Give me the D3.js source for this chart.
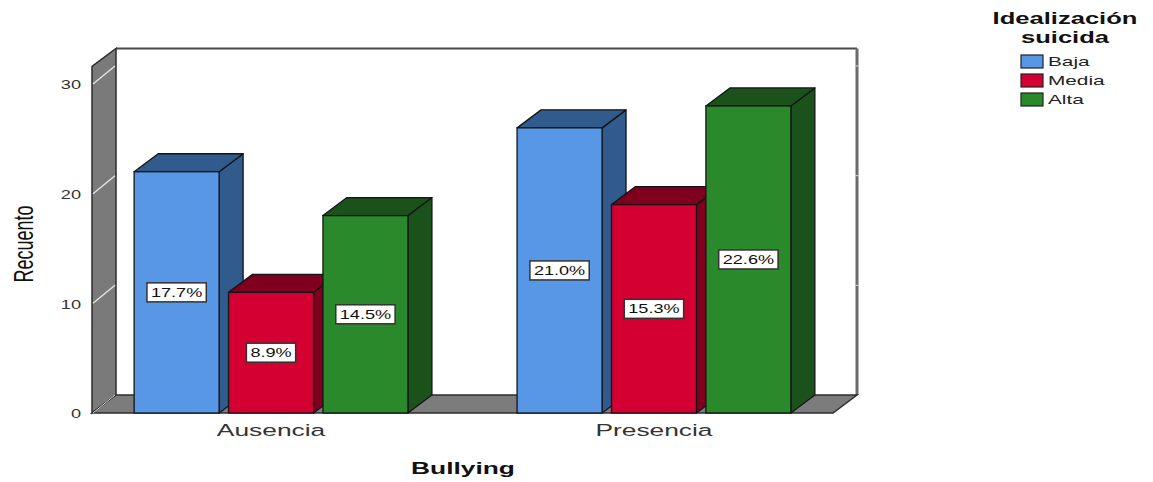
<!DOCTYPE html>
<html>
<head>
<meta charset="utf-8">
<script src="https://cdn.jsdelivr.net/npm/d3@7"></script>
<style>
  html, body { margin: 0; padding: 0; background: #fff; }
  svg { display: block; font-family: "Liberation Sans", Arial, sans-serif; }
</style>
</head>
<body>
<svg id="chart" width="1153" height="482"></svg>
<script>
// ---- data ----
const categories = ["Ausencia", "Presencia"];
const series = ["Baja", "Media", "Alta"];
const countsBaja  = [22, 26];
const countsMedia = [11, 19];
const countsAlta  = [18, 28];
const pctBaja  = ["17.7%", "21.0%"];
const pctMedia = ["8.9%", "15.3%"];
const pctAlta  = ["14.5%", "22.6%"];
const yTicks = [0, 10, 20, 30];
const yTop = 31.6;
const xTitle = "Bullying";
const yTitle = "Recuento";
const legendTitle = ["Idealización", "suicida"];

const seriesCounts = [countsBaja, countsMedia, countsAlta];
const seriesPct = [pctBaja, pctMedia, pctAlta];
const rows = [];
categories.forEach((c, i) => series.forEach((s, j) => rows.push({cat: c, ser: s, v: seriesCounts[j][i], p: seriesPct[j][i]})));

// ---- styles ----
const frontCol = {Baja: "#5797E6", Media: "#D40032", Alta: "#2A892B"};
const sideCol  = {Baja: "#315B8C", Media: "#7E001E", Alta: "#1B511B"};
const K = 1.55; // horizontal text stretch
const DX = 24, DY = -18;

const svg = d3.select("#chart");
const x0 = d3.scaleBand().domain(categories).range([92, 833]).paddingInner(0.285).paddingOuter(0.11);
const x1 = d3.scaleBand().domain(series).range([0, x0.bandwidth()]).paddingInner(0.1).paddingOuter(0);
const y = d3.scaleLinear().domain([0, 30]).range([413, 84]);

const fx0 = x0.range()[0], fx1 = x0.range()[1];
const yT = y(yTop), y0 = y(0);
const poly = pts => pts.map(p => p.join(",")).join(" ");

// back wall
svg.append("rect").attr("x", fx0 + DX).attr("y", yT + DY).attr("width", fx1 - fx0).attr("height", y0 - yT)
  .attr("fill", "#fff");
svg.append("line").attr("x1", fx0 + DX).attr("x2", fx1 + DX).attr("y1", yT + DY).attr("y2", yT + DY)
  .attr("stroke", "#4a4a4a").attr("stroke-width", 2);
svg.append("line").attr("x1", fx1 + DX).attr("x2", fx1 + DX).attr("y1", yT + DY).attr("y2", y0 + DY)
  .attr("stroke", "#6b6b6b").attr("stroke-width", 3);
// small marks on right wall at ticks
svg.selectAll(".rtick").data(yTicks.slice(1)).join("line")
  .attr("x1", fx1 + DX - 1.5).attr("x2", fx1 + DX + 1.5)
  .attr("y1", d => y(d) + DY).attr("y2", d => y(d) + DY)
  .attr("stroke", "#ddd").attr("stroke-width", 1);

// left wall
svg.append("polygon")
  .attr("points", poly([[fx0, yT], [fx0 + DX, yT + DY], [fx0 + DX, y0 + DY], [fx0, y0]]))
  .attr("fill", "#7a7a7a").attr("stroke", "#2e2e2e").attr("stroke-width", 1.5);
svg.selectAll(".grid").data(yTicks.slice(1)).join("line")
  .attr("x1", fx0 + 1).attr("x2", fx0 + DX - 1)
  .attr("y1", d => y(d)).attr("y2", d => y(d) + DY)
  .attr("stroke", "#e8e8e8").attr("stroke-width", 1.3);

// floor
svg.append("polygon")
  .attr("points", poly([[fx0, y0], [fx1, y0], [fx1 + DX, y0 + DY], [fx0 + DX, y0 + DY]]))
  .attr("fill", "#7c7c7c").attr("stroke", "#2e2e2e").attr("stroke-width", 1.5);
svg.append("line").attr("x1", fx0 + 1).attr("x2", fx0 + DX - 1).attr("y1", y0).attr("y2", y0 + DY)
  .attr("stroke", "#d0d0d0").attr("stroke-width", 1);

// bars
const bars = svg.append("g");
rows.forEach(d => {
  const xl = x0(d.cat) + x1(d.ser), xr = xl + x1.bandwidth();
  const yt = y(d.v);
  const g = bars.append("g");
  g.append("polygon").attr("points", poly([[xr, yt], [xr + DX, yt + DY], [xr + DX, y0 + DY], [xr, y0]]))
    .attr("fill", sideCol[d.ser]).attr("stroke", "#151515").attr("stroke-width", 1.3).attr("stroke-linejoin", "round");
  g.append("polygon").attr("points", poly([[xl, yt], [xl + DX, yt + DY], [xr + DX, yt + DY], [xr, yt]]))
    .attr("fill", sideCol[d.ser]).attr("stroke", "#151515").attr("stroke-width", 1.3).attr("stroke-linejoin", "round");
  g.append("rect").attr("x", xl).attr("y", yt).attr("width", xr - xl).attr("height", y0 - yt)
    .attr("fill", frontCol[d.ser]).attr("stroke", "#151515").attr("stroke-width", 1.3);
  // label
  const cx = (xl + xr) / 2, cy = (yt + y0) / 2;
  const lg = g.append("g").attr("transform", `translate(${cx},${cy})`);
  const t = lg.append("text").attr("text-anchor", "middle").attr("dy", "0.36em")
    .attr("font-size", 12.5).attr("fill", "#111").attr("transform", `scale(${K - 0.1},1)`).text(d.p);
  const w = t.node().getComputedTextLength() * (K - 0.1);
  lg.insert("rect", "text").attr("x", -w / 2 - 4).attr("y", -9.5).attr("width", w + 8).attr("height", 19)
    .attr("fill", "#fff").attr("stroke", "#333").attr("stroke-width", 1.5);
});

// y axis labels
const yAxis = svg.append("g").attr("transform", `translate(81,0)`)
  .call(d3.axisLeft(y).tickValues(yTicks).tickSize(0).tickPadding(0).tickFormat(d3.format("d")));
yAxis.select(".domain").remove();
yAxis.selectAll("text").attr("x", 0).attr("dy", "0.36em").attr("font-size", 13)
  .attr("font-family", "Liberation Sans, Arial, sans-serif").attr("fill", "#333")
  .attr("transform", `scale(${K - 0.15},1)`);

// x axis labels
const xAxis = svg.append("g").attr("transform", `translate(0,${y0})`)
  .call(d3.axisBottom(x0).tickSize(0).tickPadding(0));
xAxis.select(".domain").remove();
xAxis.selectAll("text").attr("y", 23).attr("dy", 0).attr("font-size", 17)
  .attr("font-family", "Liberation Sans, Arial, sans-serif").attr("fill", "#333")
  .attr("transform", `scale(${K},1)`)
  .each(function () {
    // keep text centred: tick g is translated already, scale about tick origin
  });

// axis titles
svg.append("text").attr("transform", `translate(463,474) scale(${K},1)`).attr("text-anchor", "middle")
  .attr("font-size", 17).attr("font-weight", "bold").attr("fill", "#111").text(xTitle);
svg.append("text").attr("transform", `translate(33,244) scale(${K - 0.05},1) rotate(-90)`).attr("text-anchor", "middle")
  .attr("font-size", 18).attr("fill", "#111").text(yTitle);

// legend
const leg = svg.append("g");
leg.selectAll(".lt").data(legendTitle).join("text")
  .attr("transform", (d, i) => `translate(1065,${24 + i * 19}) scale(${K},1)`)
  .attr("text-anchor", "middle").attr("font-size", 16.5).attr("font-weight", "bold").attr("fill", "#111")
  .text(d => d);
const li = leg.selectAll(".li").data(series).join("g")
  .attr("transform", (d, i) => `translate(1021,${55 + i * 19})`);
li.append("rect").attr("width", 22).attr("height", 13).attr("fill", d => frontCol[d])
  .attr("stroke", "#222").attr("stroke-width", 1.2);
li.append("text").attr("transform", `translate(27,11) scale(${K + 0.05},1)`).attr("font-size", 13)
  .attr("fill", "#222").text(d => d);
</script>
</body>
</html>
